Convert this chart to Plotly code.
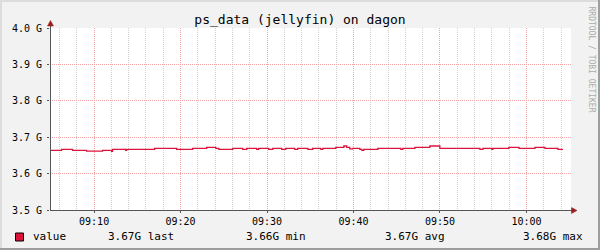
import plotly.graph_objects as go

# ---- data ----
times = [
    "09:04:51", "09:06:14", "09:07:31", "09:09:08", "09:10:59", "09:12:02", "09:12:08",
    "09:13:39", "09:13:46", "09:17:00", "09:19:33", "09:21:24", "09:23:01", "09:24:04",
    "09:24:25", "09:26:02", "09:27:11", "09:27:39", "09:28:48", "09:29:02", "09:30:12",
    "09:30:40", "09:31:42", "09:32:10", "09:33:12", "09:33:33", "09:34:43", "09:35:17",
    "09:36:13", "09:36:27", "09:37:57", "09:38:53", "09:39:13", "09:39:34", "09:39:55",
    "09:40:44", "09:40:58", "09:41:11", "09:42:49", "09:45:28", "09:45:42", "09:47:06",
    "09:48:50", "09:49:59", "09:54:37", "09:54:58", "09:56:00", "09:56:07", "09:57:58",
    "09:59:08", "10:00:59", "10:02:08", "10:02:29", "10:03:38", "10:04:13",
]
values = [
    3.6639, 3.6667, 3.6639, 3.6615, 3.6639, 3.6610, 3.6667,
    3.6639, 3.6667, 3.6694, 3.6667, 3.6694, 3.6722, 3.6694,
    3.6667, 3.6694, 3.6667, 3.6694, 3.6667, 3.6694, 3.6667,
    3.6694, 3.6667, 3.6694, 3.6667, 3.6694, 3.6667, 3.6694,
    3.6667, 3.6694, 3.6722, 3.6758, 3.6722, 3.6680, 3.6694,
    3.6667, 3.6639, 3.6667, 3.6694, 3.6667, 3.6694, 3.6722,
    3.6758, 3.6694, 3.6667, 3.6694, 3.6667, 3.6694, 3.6722,
    3.6694, 3.6722, 3.6694, 3.6694, 3.6667, 3.6667,
]
y_tick_vals = [3.5, 3.6, 3.7, 3.8, 3.9, 4.0]
y_tick_text = ["3.5 G", "3.6 G", "3.7 G", "3.8 G", "3.9 G", "4.0 G"]
series_name = "value"
title_text = "ps_data (jellyfin) on dagon"
side_text = "RRDTOOL / TOBI OETIKER"
day = "2024-01-01 "
x_start, x_end = "09:04:54", "10:05:09"

# ---- layout geometry ----
W, H = 600, 250
L, R, T, B = 50, 29, 28, 40
PW, PH = W - L - R, H - T - B
FONT = "DejaVu Sans Mono"
RED = "#DC143C"
DOT = "1px,1px"


def px(x):
    return (x - L) / PW


def py(y):
    return (H - B - y) / PH


xs = [day + t for t in times]

fig = go.Figure()
fig.add_trace(go.Scatter(
    x=xs, y=values, mode="lines", line=dict(color=RED, width=1.3, shape="hv"),
    name=series_name, showlegend=False, hoverinfo="skip",
))

fig.update_layout(
    width=W, height=H,
    margin=dict(l=L, r=R, t=T, b=B, pad=0),
    paper_bgcolor="#f2f2f2", plot_bgcolor="#ffffff",
    title=dict(text=title_text, x=0.5, xanchor="center", xref="container",
               y=1 - 19 / H, yanchor="middle", yref="container",
               font=dict(family=FONT, size=13, color="#000000")),
    font=dict(family=FONT, size=10, color="#000000"),
    showlegend=False,
)

fig.update_xaxes(
    type="date", range=[day + x_start, day + x_end],
    tickformat="%H:%M", dtick=600000, tick0=day + "09:00:00",
    showgrid=True, gridcolor="#f4a4a4", griddash=DOT, gridwidth=1,
    minor=dict(dtick=120000, tick0=day + "09:00:00", showgrid=True,
               gridcolor="#cfcfcf", griddash=DOT, gridwidth=1),
    ticks="outside", ticklen=2, tickcolor="#555555",
    showline=False, zeroline=False,
    tickfont=dict(family=FONT, size=10, color="#000000"),
    fixedrange=True,
)
fig.update_yaxes(
    range=[3.5, 4.0], tickvals=y_tick_vals, ticktext=y_tick_text,
    showgrid=True, gridcolor="#f4a4a4", griddash=DOT, gridwidth=1,
    ticks="outside", ticklen=2, tickcolor="#555555",
    ticklabelstandoff=3,
    showline=False, zeroline=False,
    tickfont=dict(family=FONT, size=10, color="#000000"),
    fixedrange=True,
)

shapes = []
# axis lines with arrows
shapes.append(dict(type="line", xref="paper", yref="paper",
                   x0=px(50.5), x1=px(50.5), y0=py(210.5), y1=py(24),
                   line=dict(color="#555555", width=1)))
shapes.append(dict(type="line", xref="paper", yref="paper",
                   x0=px(50), x1=px(574), y0=py(210.5), y1=py(210.5),
                   line=dict(color="#555555", width=1)))
shapes.append(dict(type="path", xref="paper", yref="paper",
                   path=f"M {px(47.5)},{py(26)} L {px(53.5)},{py(26)} L {px(50.5)},{py(20.5)} Z",
                   fillcolor="#9a1c1c", line=dict(color="#9a1c1c", width=0.5)))
shapes.append(dict(type="path", xref="paper", yref="paper",
                   path=f"M {px(571.5)},{py(207.5)} L {px(571.5)},{py(213.5)} L {px(577)},{py(210.5)} Z",
                   fillcolor="#9a1c1c", line=dict(color="#9a1c1c", width=0.5)))
# legend swatch
shapes.append(dict(type="rect", xref="paper", yref="paper",
                   x0=px(15.5), x1=px(23.5), y0=py(233), y1=py(241),
                   fillcolor=RED, line=dict(color="#000000", width=1)))
# frame
shapes.append(dict(type="rect", xref="paper", yref="paper",
                   x0=px(0), x1=px(600), y0=py(0), y1=py(2),
                   fillcolor="#dcdcdc", line=dict(width=0), layer="below"))
shapes.append(dict(type="rect", xref="paper", yref="paper",
                   x0=px(0), x1=px(2), y0=py(0), y1=py(250),
                   fillcolor="#dcdcdc", line=dict(width=0), layer="below"))
shapes.append(dict(type="rect", xref="paper", yref="paper",
                   x0=px(598), x1=px(600), y0=py(0), y1=py(250),
                   fillcolor="#9e9e9e", line=dict(width=0), layer="below"))
shapes.append(dict(type="rect", xref="paper", yref="paper",
                   x0=px(0), x1=px(600), y0=py(248), y1=py(250),
                   fillcolor="#9e9e9e", line=dict(width=0), layer="below"))

last_v = values[-1]
min_v = min(values)
max_v = max(values)
avg_v = sum(values) / len(values)

legend_items = [
    (30.5, series_name),
    (105.5, f"{last_v:.2f}G last"),
    (244, f"{min_v:.2f}G min"),
    (382.5, f"{avg_v:.2f}G avg"),
    (521, f"{max_v:.2f}G max"),
]
annotations = []
for xpos, txt in legend_items:
    annotations.append(dict(text=txt, xref="paper", yref="paper",
                            x=px(xpos), y=py(237), xanchor="left", yanchor="middle",
                            showarrow=False,
                            font=dict(family=FONT, size=11, color="#000000")))
annotations.append(dict(text=side_text, xref="paper", yref="paper",
                        x=px(590.5), y=py(59), xanchor="center", yanchor="middle",
                        textangle=90, showarrow=False,
                        font=dict(family=FONT, size=8, color="#aaaaaa")))

fig.update_layout(shapes=shapes, annotations=annotations)

fig.write_html("out.html")
